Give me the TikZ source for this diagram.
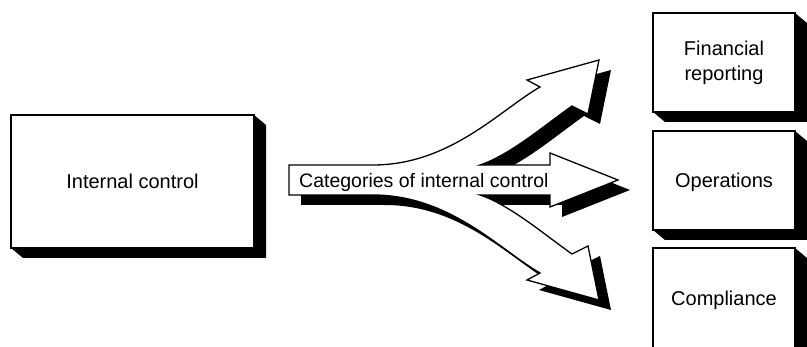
\documentclass[tikz,border=0pt]{standalone}
\usepackage{fontspec}
\setmainfont{Liberation Sans}
\newcommand\boxshadow[1]{%
  \fill[black] (#1.north east) -- ([shift={(12,10)}]#1.north east) -- ([shift={(12,10)}]#1.south east)
    -- ([shift={(12,10)}]#1.south west) -- (#1.south west) -- (#1.south east) -- cycle;}
\begin{document}
\begin{tikzpicture}[x=1pt,y=-1pt,
  boxbase/.style={draw,line width=1.5pt,fill=white,inner sep=0pt,outer sep=0pt,
    font=\fontsize{20}{25}\selectfont,align=center},
  box/.style={boxbase,text height=14.5pt,text depth=0pt},
  arrowshape/.style={draw,line width=1.3pt,fill=white,line join=miter},
  shadowshape/.style={fill=black},
  lbl/.style={font=\fontsize{19.5}{23}\selectfont,inner sep=0pt,anchor=base west}]
\useasboundingbox (0,0) rectangle (807,347);
\clip (0,0) rectangle (807,347);

% arrow shadow
\path[shadowshape,shift={(12,10)}] (289,165) -- (373,165)
  .. controls (450,165) and (500,110) .. (540,87) -- (527,80) -- (599,60) -- (588,114) -- (572,106)
  .. controls (545,125) and (510,155) .. (480,165) -- (550,165) -- (550,153) -- (618,180)
  -- (550,207) -- (550,195) -- (480,195)
  .. controls (510,205) and (545,235) .. (572,254) -- (588,246) -- (599,300) -- (527,280) -- (540,273)
  .. controls (500,250) and (450,195) .. (373,195) -- (289,195) -- cycle;
% arrow
\path[arrowshape] (289,165) -- (373,165)
  .. controls (450,165) and (500,110) .. (540,87) -- (527,80) -- (599,60) -- (588,114) -- (572,106)
  .. controls (545,125) and (510,155) .. (480,165) -- (550,165) -- (550,153) -- (618,180)
  -- (550,207) -- (550,195) -- (480,195)
  .. controls (510,205) and (545,235) .. (572,254) -- (588,246) -- (599,300) -- (527,280) -- (540,273)
  .. controls (500,250) and (450,195) .. (373,195) -- (289,195) -- cycle;
\node[lbl] (cat) at (299,188) {Categories of internal control};

% boxes
\node[box,minimum width=243pt,minimum height=133pt] (ic) at (132.5,181.5) {Internal control};
\boxshadow{ic}
\node[boxbase,minimum width=142pt,minimum height=99pt] (fin) at (724,62.5) {Financial\\reporting};
\boxshadow{fin}
\node[box,minimum width=142pt,minimum height=99pt] (ops) at (724,180.5) {Operations};
\boxshadow{ops}
\node[box,minimum width=142pt,minimum height=100.5pt] (comp) at (724,298.25) {Compliance};
\boxshadow{comp}
\end{tikzpicture}
\end{document}
